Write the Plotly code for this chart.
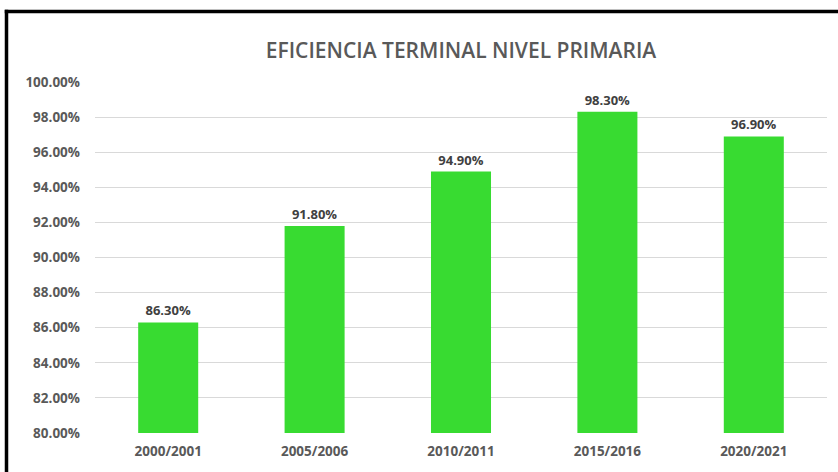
import plotly.graph_objects as go

categories = ["2000/2001", "2005/2006", "2010/2011", "2015/2016", "2020/2021"]
values = [86.3, 91.8, 94.9, 98.3, 96.9]
tick_vals = [80, 82, 84, 86, 88, 90, 92, 94, 96, 98, 100]
tick_text = [f"{v:.2f}%" for v in tick_vals]
labels = [f"{v:.2f}%" for v in values]

W, H = 838, 472
ml, mr, mt, mb = 95, 11, 82, 39
pw, ph = W - ml - mr, H - mt - mb

def px_x(p):
    return (p - ml) / pw

def px_y(p):
    return (H - mb - p) / ph

fig = go.Figure(go.Bar(
    x=categories, y=values, text=labels, textposition="outside",
    marker=dict(color="#38DB31", line=dict(width=0)),
    width=0.41, cliponaxis=False,
    textfont=dict(family="Open Sans", size=13, color="#404040", weight="bold"),
))

border = dict(color="black", width=3.5)
fig.update_layout(
    width=W, height=H,
    margin=dict(l=ml, r=mr, t=mt, b=mb),
    paper_bgcolor="white", plot_bgcolor="white",
    title=dict(text="EFICIENCIA TERMINAL NIVEL PRIMARIA", x=0.5, xref="paper",
               y=1 - 51 / H, yanchor="middle",
               font=dict(family="Open Sans", size=21, color="#595959", weight=600)),
    font=dict(family="Open Sans", color="#595959"),
    showlegend=False,
    xaxis=dict(showline=False, tickfont=dict(size=13.5, color="#595959", weight="bold"),
               ticks="", showgrid=False, ticklabelstandoff=8),
    yaxis=dict(range=[80, 100], tickvals=tick_vals, ticktext=tick_text,
               tickfont=dict(size=13.5, color="#595959", weight="bold"),
               showgrid=True, gridcolor="#D9D9D9", gridwidth=1.3,
               zeroline=False, ticks="", ticklabelstandoff=14),
    shapes=[
        dict(type="line", xref="paper", yref="paper",
             x0=px_x(4.75), x1=px_x(838), y0=px_y(11.5), y1=px_y(11.5),
             line=border, layer="above"),
        dict(type="line", xref="paper", yref="paper",
             x0=px_x(6.5), x1=px_x(6.5), y0=px_y(9.75), y1=px_y(472),
             line=border, layer="above"),
    ],
)

fig.write_html("out.html", config={"displayModeBar": False},
               post_script="document.body.style.margin='0';document.body.style.overflow='hidden';"
                           "document.documentElement.style.overflow='hidden';")
